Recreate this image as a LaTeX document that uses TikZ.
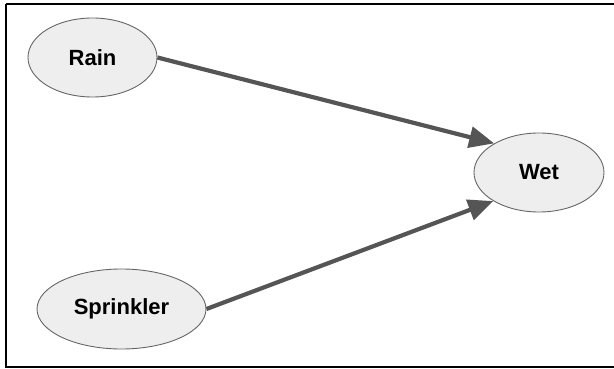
\documentclass[tikz,border=0pt]{standalone}
\usepackage{fontspec}
\setmainfont{Liberation Sans}
\usetikzlibrary{shapes.geometric,arrows.meta}
\definecolor{nodefill}{HTML}{EEEEEE}
\definecolor{nodeline}{HTML}{666666}
\definecolor{edgecol}{HTML}{555555}
\tikzset{
  var/.style={ellipse, draw=nodeline, line width=0.9pt, fill=nodefill, inner sep=0pt,
    font=\fontsize{22}{25}\selectfont\bfseries},
  edge/.style={draw=edgecol, line width=4.2pt, -{Triangle[length=25pt,width=21pt]}, shorten >=0pt}
}
\begin{document}
\begin{tikzpicture}[x=1pt,y=-1pt]
\useasboundingbox (0,0) rectangle (614,369);
\draw[line width=2pt] (6,4) -- (6,366.5) -- (616,366.5);
\draw[line width=2pt] (6,4) -- (616,4);
\node[var, minimum width=129pt, minimum height=79pt] (rain) at (92.5,57.5) {Rain};
\node[var, minimum width=130pt, minimum height=79pt] (wet) at (539,172.5) {Wet};
\node[var, minimum width=169pt, minimum height=80pt] (spr) at (121.5,309) {Sprinkler};
\draw[edge] (rain.east) -- (wet.147);
\draw[edge] (spr.east) -- (wet.212);
\end{tikzpicture}
\end{document}
